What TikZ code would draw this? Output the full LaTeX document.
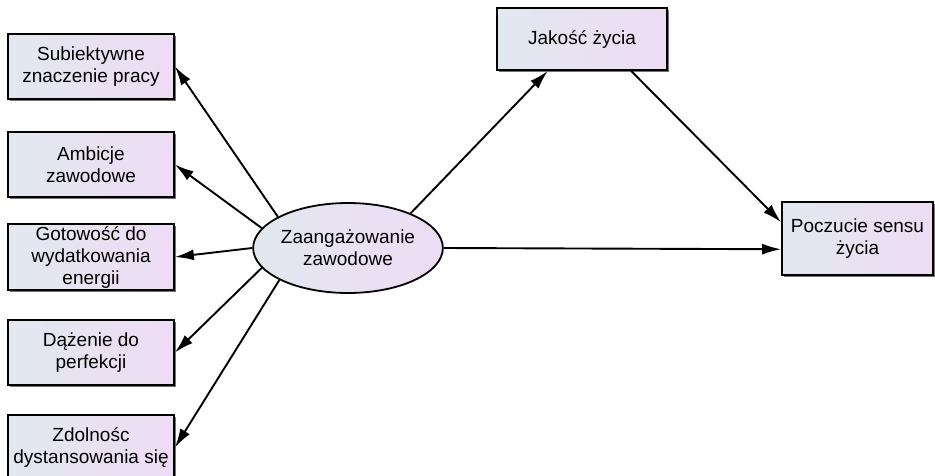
\documentclass[tikz,border=0pt]{standalone}
\usepackage{fontspec}
\setmainfont{Liberation Sans}
\usetikzlibrary{arrows.meta,shapes.geometric,shadows}
\definecolor{boxL}{RGB}{226,232,240}
\definecolor{boxR}{RGB}{238,220,244}
\begin{document}
\begin{tikzpicture}[x=1pt,y=-1pt,
  every node/.style={font=\fontsize{19}{22}\selectfont, align=center, inner sep=0pt, text=black},
  varbox/.style={rectangle, draw=black, line width=1.8pt, left color=boxL, right color=boxR,
    minimum width=166pt, minimum height=65pt,
    drop shadow={shadow xshift=1.5pt, shadow yshift=-1.5pt, fill=black!55, opacity=1}},
  latent/.style={ellipse, draw=black, line width=1.8pt, left color=boxL, right color=boxR,
    minimum width=188pt, minimum height=90pt},
  conn/.style={-{Latex[length=19pt,width=11pt]}, line width=1.9pt}]
\useasboundingbox (0,0) rectangle (935,475);
\clip (0,0) rectangle (935,475);
\fill[white] (0,0) rectangle (935,475);

\node[varbox] (b1) at (91,66.5) {Subiektywne\\znaczenie pracy};
\node[varbox] (b2) at (91,164.5) {Ambicje\\zawodowe};
\node[varbox, minimum height=66pt] (b3) at (91,257) {Gotowość do\\wydatkowania\\energii};
\node[varbox] (b4) at (91,352.5) {Dążenie do\\perfekcji};
\node[varbox] (b5) at (91,447.5) {Zdolnośc\\dystansowania się};

\node[latent] (e) at (348,248) {Zaangażowanie\\zawodowe};

\node[varbox, minimum width=170pt, minimum height=62pt] (jak) at (582,39) {Jakość życia};
\node[varbox, minimum width=151pt, minimum height=73pt] (poc) at (857.5,238.5) {Poczucie sensu\\życia};

\draw[conn] (e.156) -- (b1.east);
\draw[conn] (e.167) -- (b2.east);
\draw[conn] (e.180) -- (b3.east);
\draw[conn] (e.193) -- (b4.east);
\draw[conn] (e.205) -- (b5.east);

\draw[conn] (e.29) -- (jak.223);
\draw[conn] (jak.-33) -- (poc.168);
\draw[conn] (e.0) -- (poc.188);
\end{tikzpicture}
\end{document}
